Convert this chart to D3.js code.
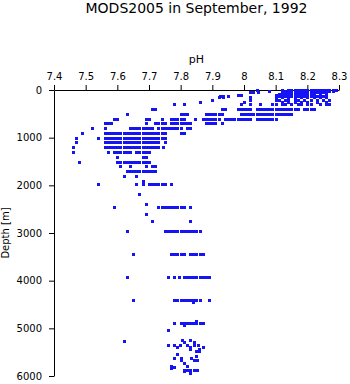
<!DOCTYPE html>
<html>
<head>
<meta charset="utf-8">
<script src="https://cdn.jsdelivr.net/npm/d3@7"></script>
<style>
body { margin: 0; background: #fff; }
svg { display: block; font-family: "DejaVu Sans", sans-serif; }
</style>
</head>
<body>
<script>
var phTicks = [7.4, 7.5, 7.6, 7.7, 7.8, 7.9, 8, 8.1, 8.2, 8.3];
var depthTicks = [0, 1000, 2000, 3000, 4000, 5000, 6000];

// depths of the profile levels [m]
var rowDepths = [0, 10, 20, 30, 50, 75, 100, 125, 150, 200, 250, 300, 400, 500, 600, 700, 800, 900,
    1000, 1100, 1200, 1300, 1400, 1500, 1600, 1700, 1800, 1900, 1980, 2190, 2390, 2460, 2600, 2750,
    2960, 3440, 3930, 4410, 4890];

// pH values read at each level
var rowPH = [
    [8.04, 8.12, 8.14, 8.15, 8.16, 8.17, 8.18, 8.19, 8.2, 8.21, 8.22, 8.23, 8.24, 8.25, 8.26, 8.27, 8.28, 8.29],
    [8.14, 8.16, 8.18, 8.19, 8.2, 8.21, 8.22, 8.23, 8.24, 8.25, 8.26, 8.27, 8.28, 8.29],
    [8.08, 8.13, 8.15, 8.17, 8.19, 8.2, 8.21, 8.22, 8.23, 8.24, 8.25, 8.26, 8.27],
    [8.12, 8.14, 8.16, 8.18, 8.19, 8.2, 8.21, 8.22, 8.23, 8.24, 8.26, 8.28],
    [8.02, 8.03, 8.045, 8.12, 8.13, 8.14, 8.15, 8.16, 8.17, 8.18, 8.19, 8.2, 8.21, 8.22, 8.23, 8.24, 8.25, 8.26],
    [8.11, 8.13, 8.15, 8.16, 8.18, 8.19, 8.2, 8.21, 8.22, 8.24, 8.26],
    [7.98, 7.99, 8.1, 8.12, 8.13, 8.14, 8.15, 8.17, 8.18, 8.19, 8.2, 8.21, 8.22, 8.24],
    [7.925, 7.935, 7.95, 8.11, 8.13, 8.15, 8.17, 8.19, 8.21, 8.23, 8.25],
    [7.92, 7.935, 8.02, 8.1, 8.12, 8.14, 8.16, 8.18, 8.2, 8.22, 8.24, 8.26],
    [7.9, 8.02, 8.1, 8.11, 8.13, 8.14, 8.16, 8.17, 8.19, 8.21, 8.23, 8.25, 8.27],
    [7.86, 8.0, 8.12, 8.14, 8.16, 8.18, 8.2, 8.23, 8.26],
    [7.78, 7.81, 7.99, 8.02, 8.05, 8.09, 8.1, 8.12, 8.13, 8.15, 8.17, 8.18, 8.2, 8.21, 8.24, 8.26, 8.27],
    [7.71, 7.72, 7.93, 7.94, 7.98, 7.99, 8.0, 8.01, 8.02, 8.04, 8.05, 8.06, 8.07, 8.08, 8.09, 8.1, 8.11, 8.12, 8.13, 8.14, 8.15, 8.16, 8.17, 8.19, 8.2, 8.21, 8.22],
    [7.63, 7.8, 7.81, 7.82, 7.88, 7.89, 7.9, 7.91, 7.92, 7.93, 7.99, 8.0, 8.01, 8.02, 8.03, 8.04, 8.05, 8.06, 8.07, 8.08, 8.09, 8.1, 8.11, 8.12, 8.13, 8.14, 8.15],
    [7.59, 7.6, 7.69, 7.7, 7.74, 7.77, 7.78, 7.79, 7.8, 7.81, 7.845, 7.87, 7.88, 7.89, 7.9, 7.91, 7.92, 7.94, 7.95, 7.96, 7.97, 7.98, 7.99, 8.0, 8.01, 8.02, 8.04, 8.05, 8.06, 8.07, 8.08, 8.09, 8.1],
    [7.56, 7.57, 7.58, 7.69, 7.72, 7.73, 7.74, 7.75, 7.77, 7.78, 7.79, 7.8, 7.81, 7.82, 7.83, 7.88, 7.89, 7.9, 7.91, 7.93],
    [7.52, 7.56, 7.64, 7.65, 7.66, 7.67, 7.68, 7.69, 7.7, 7.71, 7.73, 7.74, 7.75, 7.76, 7.77, 7.78, 7.79, 7.8, 7.82, 7.83],
    [7.49, 7.56, 7.57, 7.58, 7.59, 7.6, 7.61, 7.62, 7.63, 7.64, 7.65, 7.66, 7.67, 7.68, 7.69, 7.7, 7.71, 7.72, 7.73, 7.74, 7.75, 7.8, 7.81],
    [7.47, 7.54, 7.56, 7.57, 7.58, 7.59, 7.6, 7.61, 7.62, 7.63, 7.64, 7.65, 7.66, 7.67, 7.68, 7.69, 7.7, 7.71, 7.72, 7.73, 7.74, 7.75],
    [7.47, 7.56, 7.57, 7.58, 7.59, 7.6, 7.61, 7.62, 7.63, 7.64, 7.65, 7.66, 7.67, 7.68, 7.69, 7.7, 7.71, 7.72, 7.73, 7.75],
    [7.46, 7.56, 7.57, 7.58, 7.59, 7.6, 7.61, 7.62, 7.63, 7.64, 7.65, 7.66, 7.67, 7.68, 7.69, 7.7, 7.71, 7.72, 7.73, 7.745],
    [7.46, 7.57, 7.59, 7.6, 7.61, 7.62, 7.63, 7.64, 7.66, 7.67, 7.68, 7.69, 7.7],
    [7.6, 7.68, 7.69],
    [7.48, 7.6, 7.61, 7.62, 7.63, 7.64, 7.65, 7.66, 7.67, 7.68, 7.69, 7.7],
    [7.61, 7.64, 7.69, 7.71, 7.72],
    [7.63, 7.64, 7.65, 7.66, 7.67, 7.68, 7.69, 7.7, 7.71, 7.72],
    [7.62, 7.66],
    [7.68],
    [7.54, 7.66, 7.68, 7.7, 7.71, 7.72, 7.73, 7.74, 7.75, 7.77],
    [7.67],
    [7.69],
    [7.59, 7.73, 7.74, 7.75, 7.76, 7.77, 7.78, 7.79, 7.8, 7.81, 7.83],
    [7.69],
    [7.71, 7.83],
    [7.63, 7.75, 7.76, 7.77, 7.78, 7.79, 7.8, 7.81, 7.82, 7.83, 7.84, 7.85, 7.86],
    [7.65, 7.77, 7.78, 7.79, 7.8, 7.81, 7.83, 7.84, 7.85, 7.86, 7.87],
    [7.63, 7.76, 7.78, 7.795, 7.81, 7.82, 7.83, 7.84, 7.85, 7.86, 7.87, 7.88, 7.89],
    [7.65, 7.78, 7.79, 7.8, 7.81, 7.82, 7.83, 7.84, 7.85, 7.86, 7.89],
    [7.78, 7.8, 7.81, 7.82, 7.83, 7.84, 7.85, 7.86, 7.87]
];

// scattered near-bottom samples
var bottomDepths = [4450, 4850, 4940, 5030, 5264, 5243, 5243, 5285, 5285, 5354, 5348, 5384, 5354, 5354,
    5384, 5354, 5354, 5384, 5432, 5432, 5474, 5474, 5537, 5579, 5615, 5615, 5615, 5663, 5663, 5663,
    5733, 5790, 5790, 5817, 5835, 5867, 5867, 5867, 5867, 5867, 5895, 5943];
var bottomPH = [7.84, 7.85, 7.81, 7.76, 7.62, 7.803, 7.831, 7.811, 7.842, 7.76, 7.778, 7.79, 7.797, 7.82,
    7.831, 7.843, 7.855, 7.871, 7.831, 7.858, 7.849, 7.858, 7.79, 7.849, 7.779, 7.8, 7.832, 7.8, 7.843,
    7.853, 7.811, 7.771, 7.82, 7.779, 7.771, 7.811, 7.82, 7.831, 7.843, 7.853, 7.811, 7.831];

var svg = d3.select('body').append('svg')
    .attr('width', 350)
    .attr('height', 384);

var margin = { top: 90, left: 54 },
    width = 285,
    height = 286,
    g = svg.append('g').attr('transform', 'translate(' + margin.left + ',' + margin.top + ')');

var x = d3.scaleLinear().domain([7.4, 8.3]).range([0, width]);
var y = d3.scaleLinear().domain([0, 6000]).range([0, height]);

svg.append('text')
    .attr('x', margin.left + width / 2)
    .attr('y', 13)
    .attr('text-anchor', 'middle')
    .style('font-size', '14px')
    .text('MODS2005 in September, 1992');

var xAxis = g.append('g')
    .call(d3.axisTop(x).tickValues(phTicks).tickSize(5).tickSizeOuter(0).tickPadding(5).tickFormat(d3.format('')));
var yAxis = g.append('g')
    .call(d3.axisLeft(y).tickValues(depthTicks).tickSize(5).tickSizeOuter(0).tickPadding(7).tickFormat(d3.format('')));

[xAxis, yAxis].forEach(function (a) {
    a.attr('font-family', null).attr('font-size', null);
    a.selectAll('text').style('font-size', '10px').attr('fill', '#000');
    a.selectAll('line,path').attr('stroke', '#000');
});

g.append('text')
    .attr('x', width / 2)
    .attr('y', -27)
    .attr('text-anchor', 'middle')
    .style('font-size', '11px')
    .text('pH');

svg.append('text')
    .attr('transform', 'translate(9,' + (margin.top + height / 2) + ') rotate(-90)')
    .attr('text-anchor', 'middle')
    .style('font-size', '10px')
    .text('Depth [m]');

var points = [];
rowDepths.forEach(function (d, i) {
    rowPH[i].forEach(function (p) { points.push({ ph: p, depth: d }); });
});
bottomDepths.forEach(function (d, i) {
    points.push({ ph: bottomPH[i], depth: d });
});

g.selectAll('.dot')
    .data(points)
    .enter().append('rect')
    .attr('class', 'dot')
    .attr('x', function (d) { return Math.round(x(d.ph)) - 1; })
    .attr('y', function (d) { return Math.round(y(d.depth)) - 1; })
    .attr('width', 3)
    .attr('height', 3)
    .attr('fill', '#1414f5');
</script>
</body>
</html>
